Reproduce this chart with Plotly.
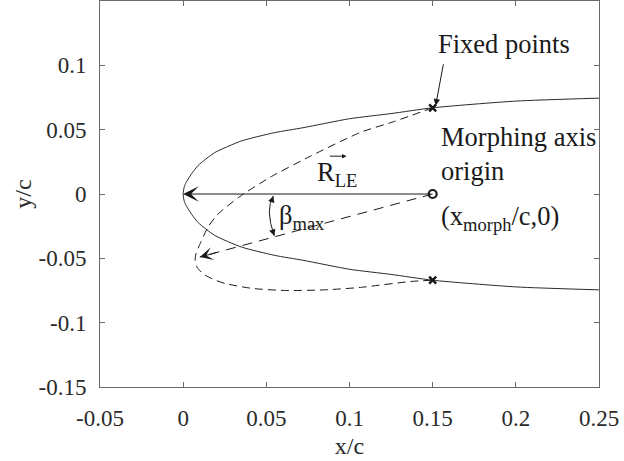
import plotly.graph_objects as go

# Baseline airfoil leading-edge region (upper surface; lower surface is its mirror)
airfoil_x = [0.0, 0.0005, 0.0015, 0.003, 0.0055, 0.009, 0.019, 0.035, 0.055, 0.072,
             0.1, 0.125, 0.15, 0.2, 0.25]
airfoil_upper_y = [0.0, 0.0048, 0.0083, 0.0116, 0.0165, 0.0222, 0.0322, 0.0412, 0.0477, 0.0515,
                   0.0585, 0.0625, 0.067, 0.0722, 0.0745]

# Morphed (drooped) leading edge, from upper fixed point around to lower fixed point
morph_x = [0.15, 0.127, 0.1066, 0.0765, 0.0524, 0.034, 0.021, 0.015, 0.0102, 0.0078,
           0.0072, 0.0085, 0.0125, 0.019, 0.0253, 0.0416, 0.0614, 0.085, 0.1066, 0.1367, 0.15]
morph_y = [0.067, 0.0564, 0.0479, 0.0294, 0.0131, -0.002, -0.0155, -0.0255, -0.0386, -0.046,
           -0.0515, -0.0572, -0.0625, -0.0668, -0.0696, -0.0734, -0.075, -0.0745, -0.0726, -0.068, -0.067]

# Fixed points and morphing axis origin
fixed_x = [0.15, 0.15]
fixed_y = [0.067, -0.067]
origin_x = [0.15]
origin_y = [0.0]

# Leading edge before and after rotation by beta_max
le_x, le_y = 0.0, 0.0
le_rot_x, le_rot_y = 0.01, -0.049

# Axis ticks
x_ticks = [-0.05, 0, 0.05, 0.1, 0.15, 0.2, 0.25]
x_tick_labels = ["-0.05", "0", "0.05", "0.1", "0.15", "0.2", "0.25"]
y_ticks = [-0.15, -0.1, -0.05, 0, 0.05, 0.1]
y_tick_labels = ["-0.15", "-0.1", "-0.05", "0", "0.05", "0.1"]

SERIF = "Liberation Serif"
INK = "#1a1a1a"
LABEL = "#2a2a2a"
ANN_SIZE = 26.5

# closed outline: lower surface from trailing side to LE, then upper surface back
outline_x = airfoil_x[::-1] + airfoil_x[1:]
outline_y = [-v for v in airfoil_upper_y[::-1]] + airfoil_upper_y[1:]

fig = go.Figure()

fig.add_trace(go.Scatter(
    x=outline_x, y=outline_y, mode="lines",
    line=dict(color="#2a2a2a", width=1, shape="spline", smoothing=0.6),
    showlegend=False, hoverinfo="skip"))

fig.add_trace(go.Scatter(
    x=morph_x, y=morph_y, mode="lines",
    line=dict(color=INK, width=1, dash="8px,5px", shape="spline", smoothing=0.6),
    showlegend=False, hoverinfo="skip"))

# dashed radius to the rotated leading edge
fig.add_trace(go.Scatter(
    x=[origin_x[0], le_rot_x], y=[origin_y[0], le_rot_y], mode="lines",
    line=dict(color=INK, width=1, dash="10px,7px"),
    showlegend=False, hoverinfo="skip"))

fig.add_trace(go.Scatter(
    x=fixed_x, y=fixed_y, mode="markers",
    marker=dict(symbol="x-thin", size=7, line=dict(color=INK, width=2.5)),
    showlegend=False, hoverinfo="skip"))

fig.add_trace(go.Scatter(
    x=origin_x, y=origin_y, mode="markers",
    marker=dict(symbol="circle-open", size=8, line=dict(color=INK, width=2.2), color=INK),
    showlegend=False, hoverinfo="skip"))

annotations = []

# solid radius vector R_LE from the morphing origin to the leading edge
annotations.append(dict(
    x=le_x, y=le_y, ax=origin_x[0], ay=origin_y[0], xref="x", yref="y",
    axref="x", ayref="y", text="", showarrow=True, arrowhead=3,
    arrowsize=2.6, arrowwidth=1, arrowcolor=INK, standoff=0))

# arrowhead on the dashed (rotated) radius
frac = 0.08
annotations.append(dict(
    x=le_rot_x, y=le_rot_y,
    ax=le_rot_x + frac * (origin_x[0] - le_rot_x),
    ay=le_rot_y + frac * (origin_y[0] - le_rot_y),
    xref="x", yref="y", axref="x", ayref="y", text="", showarrow=True,
    arrowhead=3, arrowsize=2.2, arrowwidth=1, arrowcolor=INK, standoff=0))

# "Fixed points" label and its pointer
annotations.append(dict(
    x=0.1518, y=0.1167, xref="x", yref="y", text="Fixed points",
    showarrow=False, xanchor="left", yanchor="middle",
    font=dict(family=SERIF, size=ANN_SIZE, color=INK)))
annotations.append(dict(
    x=0.1518, y=0.0688, ax=0.1566, ay=0.102, xref="x", yref="y",
    axref="x", ayref="y", text="", showarrow=True, arrowhead=2,
    arrowsize=1.3, arrowwidth=1, arrowcolor=INK, standoff=0))

annotations.append(dict(
    x=0.1536, y=0.0309, xref="x", yref="y", text="Morphing axis<br>origin",
    showarrow=False, xanchor="left", yanchor="middle", align="left",
    font=dict(family=SERIF, size=ANN_SIZE, color=INK)))

annotations.append(dict(
    x=0.1536, y=-0.019, xref="x", yref="y",
    text="(x<sub>morph</sub>/c,0)",
    showarrow=False, xanchor="left", yanchor="middle",
    font=dict(family=SERIF, size=ANN_SIZE, color=INK)))

annotations.append(dict(
    x=0.0795, y=0.0155, xref="x", yref="y", text="R<sub>LE</sub>",
    showarrow=False, xanchor="left", yanchor="middle",
    font=dict(family=SERIF, size=ANN_SIZE, color=INK)))
# small vector mark above R_LE
annotations.append(dict(
    x=0.0982, y=0.0294, ax=0.0873, ay=0.0294, xref="x", yref="y",
    axref="x", ayref="y", text="", showarrow=True, arrowhead=2,
    arrowsize=0.9, arrowwidth=1, arrowcolor=INK, standoff=0))

annotations.append(dict(
    x=0.0566, y=-0.0175, xref="x", yref="y", text="β<sub>max</sub>",
    showarrow=False, xanchor="left", yanchor="middle",
    font=dict(family=SERIF, size=ANN_SIZE, color=INK)))

# beta_max angle arc with arrowheads at both ends
arc_top = (0.0542, -0.0015)
arc_ctrl = (0.0491, -0.0124)
arc_bot = (0.0548, -0.0325)
fig.add_shape(
    type="path", xref="x", yref="y",
    path=f"M {arc_top[0]},{arc_top[1]} Q {arc_ctrl[0]},{arc_ctrl[1]} {arc_bot[0]},{arc_bot[1]}",
    line=dict(color=INK, width=1))
annotations.append(dict(
    x=arc_top[0], y=arc_top[1], ax=-2, ay=6, xref="x", yref="y",
    text="", showarrow=True, arrowhead=2, arrowsize=1.3, arrowwidth=1,
    arrowcolor=INK, standoff=0))
annotations.append(dict(
    x=arc_bot[0], y=arc_bot[1], ax=-2, ay=-6, xref="x", yref="y",
    text="", showarrow=True, arrowhead=2, arrowsize=1.3, arrowwidth=1,
    arrowcolor=INK, standoff=0))

axis_common = dict(
    showline=True, linecolor="#6a6a6a", linewidth=1, mirror="ticks",
    ticks="inside", ticklen=5, tickwidth=1, tickcolor="#6a6a6a",
    showgrid=False, zeroline=False,
    tickfont=dict(family=SERIF, size=23, color=LABEL),
)

fig.update_layout(
    width=624, height=461,
    margin=dict(l=100, r=25, t=1, b=74, autoexpand=False),
    paper_bgcolor="white", plot_bgcolor="white",
    font=dict(family=SERIF, color=LABEL),
    annotations=annotations,
    xaxis=dict(
        range=[-0.05, 0.25], tickmode="array", tickvals=x_ticks, ticktext=x_tick_labels,
        title=dict(text="x/c", font=dict(family=SERIF, size=24, color=LABEL), standoff=7),
        ticklabelstandoff=10, automargin=False, **axis_common),
    yaxis=dict(
        range=[-0.15, 0.15], tickmode="array", tickvals=y_ticks, ticktext=y_tick_labels,
        title=dict(text="y/c", font=dict(family=SERIF, size=24, color=LABEL), standoff=0),
        ticklabelstandoff=8, automargin=False, **axis_common),
)

fig.write_html("out.html")
